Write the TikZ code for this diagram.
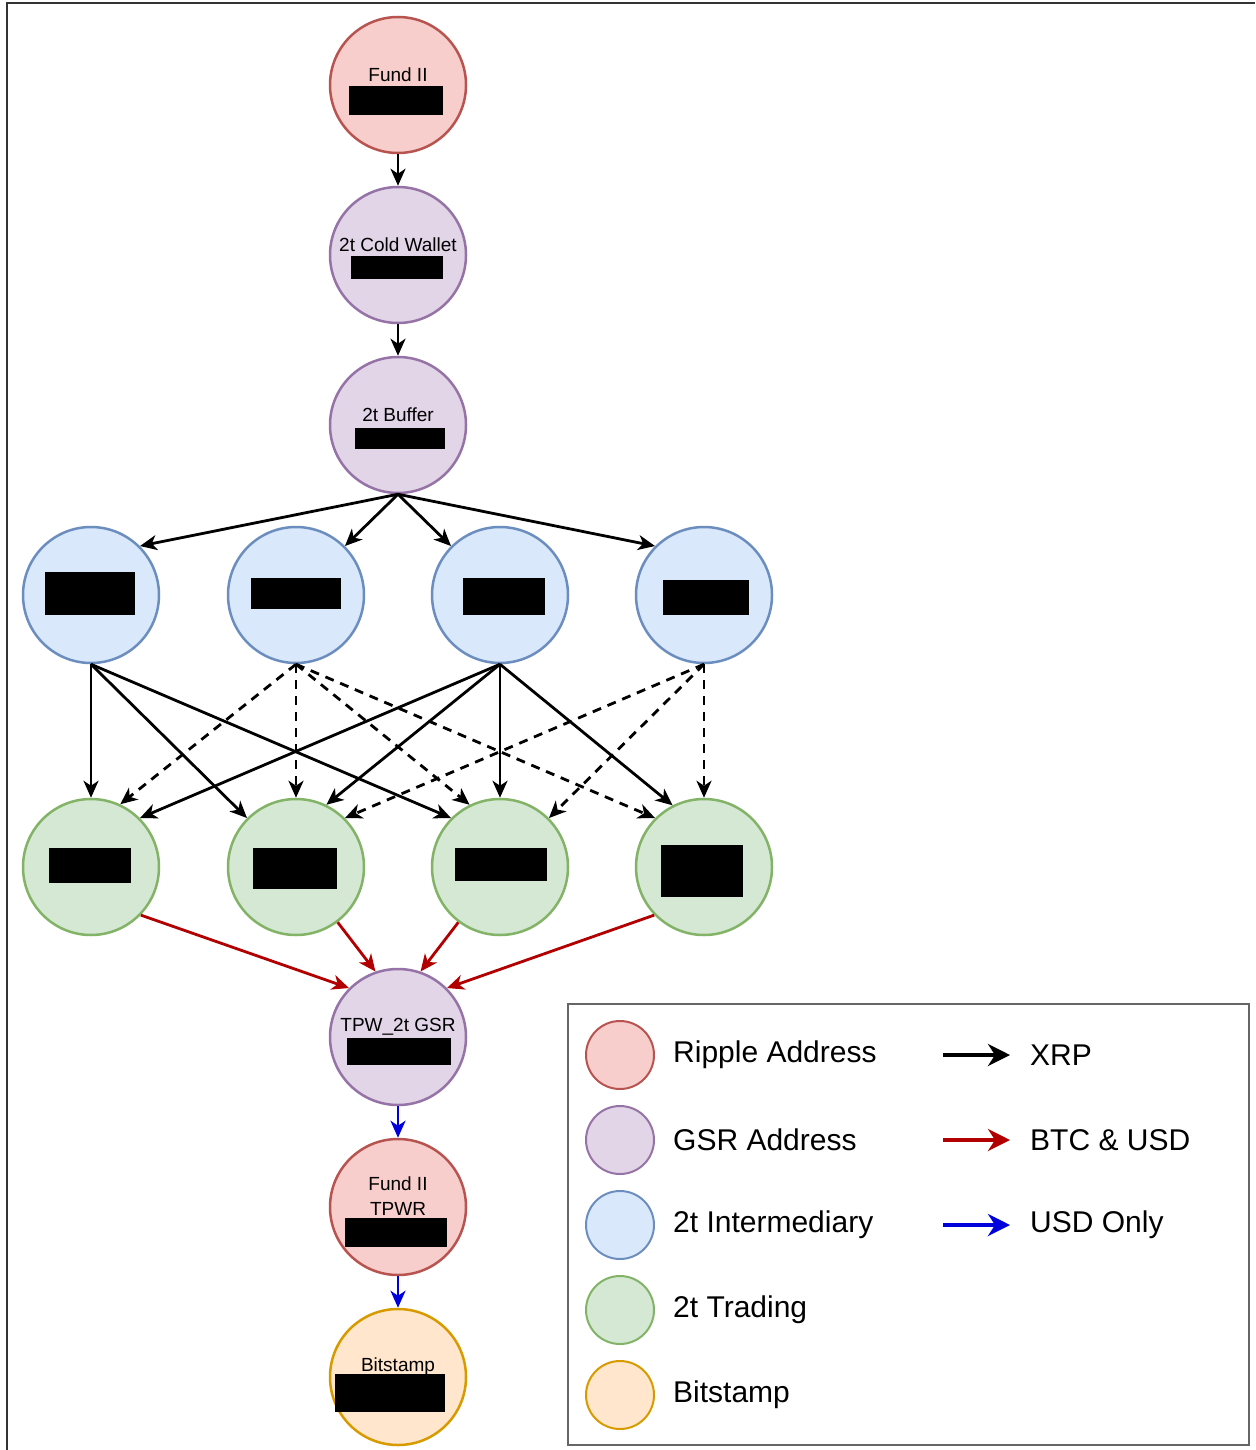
\documentclass[tikz,border=0pt]{standalone}
\usepackage{fontspec}
\setmainfont{Liberation Sans}
\usetikzlibrary{arrows.meta}
\definecolor{redF}{HTML}{F8CECC}\definecolor{redD}{HTML}{B85450}
\definecolor{purF}{HTML}{E1D5E7}\definecolor{purD}{HTML}{9673A6}
\definecolor{bluF}{HTML}{DAE8FC}\definecolor{bluD}{HTML}{6C8EBF}
\definecolor{grnF}{HTML}{D5E8D4}\definecolor{grnD}{HTML}{82B366}
\definecolor{orgF}{HTML}{FFE6CC}\definecolor{orgD}{HTML}{D79B00}
\definecolor{btcC}{HTML}{B20000}
\definecolor{usdC}{HTML}{0000DD}
\begin{document}
\begin{tikzpicture}[x=1pt,y=-1pt,
  addr/.style={circle, line width=2.5pt, minimum size=136pt, inner sep=0pt},
  ripple/.style={addr, fill=redF, draw=redD},
  gsr/.style={addr, fill=purF, draw=purD},
  inter/.style={addr, fill=bluF, draw=bluD},
  trading/.style={addr, fill=grnF, draw=grnD},
  bitst/.style={addr, fill=orgF, draw=orgD},
  lgd/.style={minimum size=68pt, line width=2pt},
  redact/.style={fill=black, draw=none, inner sep=0pt},
  ntext/.style={font=\fontsize{19}{22}\selectfont, inner sep=0pt, align=center},
  ltext/.style={font=\fontsize{30}{36}\selectfont, inner sep=0pt, anchor=west},
  flow/.style={line width=2.8pt, -{Stealth[length=17pt,width=15pt,inset=5pt]}},
  xrp/.style={flow, black},
  xrpd/.style={flow, black, dash pattern=on 9pt off 7pt},
  btc/.style={flow, btcC},
  usd/.style={flow, usdC},
  lflow/.style={line width=4.5pt, -{Stealth[length=22pt,width=22pt,inset=7pt]}}
]
\useasboundingbox (0,0) rectangle (1255,1450);
\fill[white] (0,0) rectangle (1255,1450);
\draw[line width=2.5pt, black!80] (7,1450) -- (7,3) -- (1255,3);

% main column
\node[ripple] (fund) at (398,85) {};
\node[gsr] (cold) at (398,255) {};
\node[gsr] (buf) at (398,425) {};
\node[inter] (b1) at (91,595) {};
\node[inter] (b2) at (296,595) {};
\node[inter] (b3) at (500,595) {};
\node[inter] (b4) at (704,595) {};
\node[trading] (g1) at (91,867) {};
\node[trading] (g2) at (296,867) {};
\node[trading] (g3) at (500,867) {};
\node[trading] (g4) at (704,867) {};
\node[gsr] (tpw) at (398,1037) {};
\node[ripple] (tpwr) at (398,1207) {};
\node[bitst] (bst) at (398,1377) {};

% texts
\node[ntext] (tfund) at (398,75) {Fund II};
\node[ntext] (tcold) at (398,245) {2t Cold Wallet};
\node[ntext] (tbuf) at (398,415) {2t Buffer};
\node[ntext] (ttpw) at (398,1027) {TPW\_2t GSR};
\node[ntext] (ttpwr) at (398,1184) {Fund II};
\node[ntext] (ttpwr2) at (398,1209) {TPWR};
\node[ntext] (tbst) at (398,1367) {Bitstamp};

% redactions
\node[redact, minimum width=94pt, minimum height=29pt] (rfund) at (396,100.5) {};
\node[redact, minimum width=92pt, minimum height=23pt] (rcold) at (397,267.5) {};
\node[redact, minimum width=90pt, minimum height=21pt] (rbuf) at (400,438.5) {};
\node[redact, minimum width=90pt, minimum height=43pt] (rb1) at (90,593.5) {};
\node[redact, minimum width=90pt, minimum height=31pt] (rb2) at (296,593.5) {};
\node[redact, minimum width=82pt, minimum height=37pt] (rb3) at (504,596.5) {};
\node[redact, minimum width=86pt, minimum height=35pt] (rb4) at (706,597.5) {};
\node[redact, minimum width=82pt, minimum height=35pt] (rg1) at (90,865.5) {};
\node[redact, minimum width=84pt, minimum height=41pt] (rg2) at (295,868.5) {};
\node[redact, minimum width=92pt, minimum height=33pt] (rg3) at (501,864.5) {};
\node[redact, minimum width=82pt, minimum height=52pt] (rg4) at (702,871) {};
\node[redact, minimum width=104pt, minimum height=27pt] (rtpw) at (399,1051.5) {};
\node[redact, minimum width=102pt, minimum height=29pt] (rtpwr) at (396,1232.5) {};
\node[redact, minimum width=110pt, minimum height=38pt] (rbst) at (390,1393) {};

% XRP flows
\draw[xrp] (fund.south) -- (cold.north);
\draw[xrp] (cold.south) -- (buf.north);
\draw[xrp] (buf.south) -- (b1.north east);
\draw[xrp] (buf.south) -- (b2.north east);
\draw[xrp] (buf.south) -- (b3.north west);
\draw[xrp] (buf.south) -- (b4.north west);

\draw[xrp] (b1.south) -- (g1.north);
\draw[xrp] (b1.south) -- (g2.135);
\draw[xrp] (b1.south) -- (g3.135);
\draw[xrpd] (b2.south) -- (g1.65);
\draw[xrpd] (b2.south) -- (g2.north);
\draw[xrpd] (b2.south) -- (g3.116);
\draw[xrpd] (b2.south) -- (g4.135);
\draw[xrp] (b3.south) -- (g1.45);
\draw[xrp] (b3.south) -- (g2.64);
\draw[xrp] (b3.south) -- (g3.north);
\draw[xrp] (b3.south) -- (g4.117);
\draw[xrpd] (b4.south) -- (g2.45);
\draw[xrpd] (b4.south) -- (g3.45);
\draw[xrpd] (b4.south) -- (g4.north);

% BTC & USD flows
\draw[btc] (g1.-44) -- (tpw.135);
\draw[btc] (g2.-53) -- (tpw.109);
\draw[btc] (g3.233) -- (tpw.71);
\draw[btc] (g4.224) -- (tpw.45);

% USD only
\draw[usd] (tpw.south) -- (tpwr.north);
\draw[usd] (tpwr.south) -- (bst.north);

% legend
\node[draw=black!60, line width=2.5pt, minimum width=681pt, minimum height=441pt, inner sep=0pt] (legend) at (908.5,1224.5) {};
\node[ripple, lgd] (l1) at (620,1055) {};
\node[gsr, lgd] (l2) at (620,1140) {};
\node[inter, lgd] (l3) at (620,1225) {};
\node[trading, lgd] (l4) at (620,1310) {};
\node[bitst, lgd] (l5) at (620,1395) {};
\node[ltext] (lt1) at (673,1055) {Ripple Address};
\node[ltext] (lt2) at (673,1140) {GSR Address};
\node[ltext] (lt3) at (673,1225) {2t Intermediary};
\node[ltext] (lt4) at (673,1310) {2t Trading};
\node[ltext] (lt5) at (673,1395) {Bitstamp};
\coordinate (la1) at (943,1055); \coordinate (lb1) at (1010,1055);
\coordinate (la2) at (943,1140); \coordinate (lb2) at (1010,1140);
\coordinate (la3) at (943,1225); \coordinate (lb3) at (1010,1225);
\draw[lflow, black] (la1) -- (lb1);
\draw[lflow, btcC] (la2) -- (lb2);
\draw[lflow, usdC] (la3) -- (lb3);
\node[ltext] (lx1) at (1030,1055) {XRP};
\node[ltext] (lx2) at (1030,1140) {BTC \& USD};
\node[ltext] (lx3) at (1030,1225) {USD Only};
\end{tikzpicture}
\end{document}
